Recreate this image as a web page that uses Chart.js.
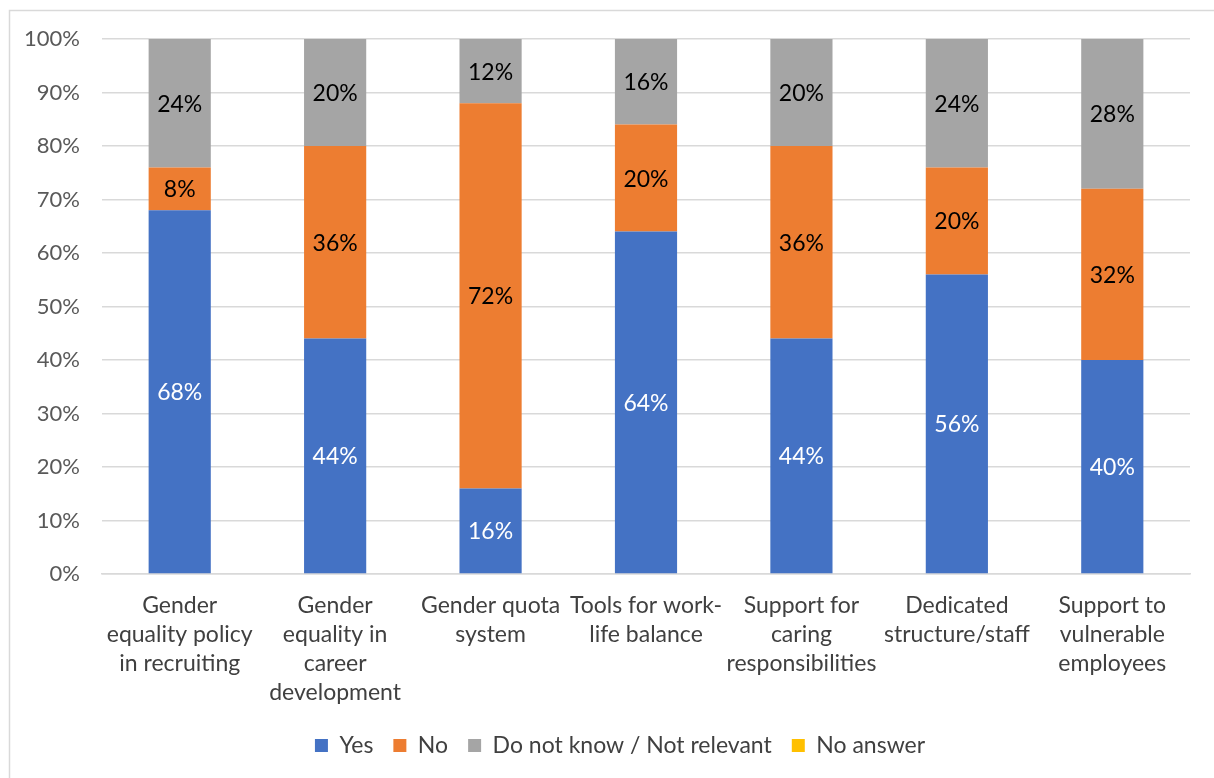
<!DOCTYPE html>
<html>
<head>
<meta charset="utf-8">
<script src="https://cdn.jsdelivr.net/npm/chart.js@4"></script>
<style>
  html, body { margin: 0; padding: 0; background: #fff; }
  #wrap { width: 1214px; height: 778px; position: relative; }
</style>
</head>
<body>
<div id="wrap"><canvas id="chart"></canvas></div>
<script>
const categories = [
  ["Gender", "equality policy", "in recruiting"],
  ["Gender", "equality in", "career", "development"],
  ["Gender quota", "system"],
  ["Tools for work-", "life balance"],
  ["Support for", "caring", "responsibilities"],
  ["Dedicated", "structure/staff"],
  ["Support to", "vulnerable", "employees"],
];
const yesVals = [68, 44, 16, 64, 44, 56, 40];
const noVals = [8, 36, 72, 20, 36, 20, 32];
const dontKnowVals = [24, 20, 12, 16, 20, 24, 28];
const noAnswerVals = [0, 0, 0, 0, 0, 0, 0];
const yTicks = [0, 10, 20, 30, 40, 50, 60, 70, 80, 90, 100];

const FONT = "Lato, 'Open Sans', sans-serif";

// value labels in the middle of every non-empty segment
const segmentLabels = {
  id: "segmentLabels",
  afterDatasetsDraw(chart) {
    const ctx = chart.ctx;
    ctx.save();
    ctx.font = `23px ${FONT}`;
    ctx.textAlign = "center";
    ctx.textBaseline = "middle";
    chart.data.datasets.forEach((ds, i) => {
      const meta = chart.getDatasetMeta(i);
      meta.data.forEach((bar, j) => {
        const v = ds.data[j];
        if (!v) return;
        ctx.fillStyle = i === 0 ? "#ffffff" : "#000000";
        ctx.fillText(v + "%", bar.x, (bar.y + bar.base) / 2 + 1);
      });
    });
    ctx.restore();
  }
};

// thin frame around the whole chart; legend nudged right a little
const frame = {
  id: "frame",
  beforeDraw(chart) {
    const lg = chart.legend;
    if (lg && !lg._nudged) {
      lg.left += 25;
      lg.right += 25;
      lg._nudged = true;
    }
    const ctx = chart.ctx;
    ctx.save();
    ctx.strokeStyle = "#d9d9d9";
    ctx.lineWidth = 1.5;
    ctx.strokeRect(9.5, 10.5, 1300, 900);
    ctx.restore();
  }
};

const ds = (label, data, color) => ({
  label, data, backgroundColor: color, borderWidth: 0,
  barPercentage: 1, categoryPercentage: 0.4,
});

new Chart(document.getElementById("chart"), {
  type: "bar",
  data: {
    labels: categories,
    datasets: [
      ds("Yes", yesVals, "#4472C4"),
      ds("No", noVals, "#ED7D31"),
      ds("Do not know / Not relevant", dontKnowVals, "#A5A5A5"),
      ds("No answer", noAnswerVals, "#FFC000"),
    ]
  },
  options: {
    responsive: true,
    maintainAspectRatio: false,
    animation: false,
    layout: { padding: { left: 0, right: 24, top: 39, bottom: 11 } },
    scales: {
      x: {
        stacked: true,
        grid: { display: false, drawTicks: false },
        border: { color: "#d9d9d9", width: 1.5 },
        ticks: {
          color: "#404040", font: { family: FONT, size: 23, lineHeight: 1.26 },
          padding: 17, maxRotation: 0, autoSkip: false,
        },
        afterFit(scale) { scale.height = 140; },
      },
      y: {
        stacked: true,
        min: 0, max: 100,
        afterBuildTicks(scale) { scale.ticks = yTicks.map(v => ({ value: v })); },
        grid: { color: "#d9d9d9", lineWidth: 1.5, drawTicks: false },
        border: { display: false },
        ticks: {
          color: "#595959", font: { family: FONT, size: 22 },
          padding: 22, callback: v => v + "%",
        },
        afterFit(scale) { scale.width = 102; },
      }
    },
    plugins: {
      legend: {
        position: "bottom",
        labels: {
          color: "#404040", font: { family: FONT, size: 23 },
          boxWidth: 13, boxHeight: 13, padding: 20,
        }
      },
      tooltip: { enabled: false },
    }
  },
  plugins: [frame, segmentLabels]
});
</script>
</body>
</html>
